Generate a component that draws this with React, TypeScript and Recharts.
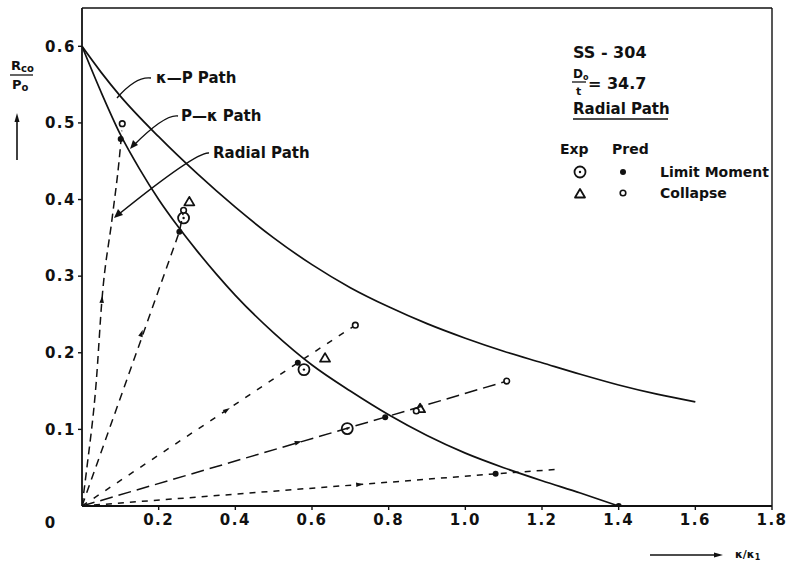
import React from 'react';
import { ComposedChart, Line, Scatter, XAxis, YAxis, ReferenceLine } from 'recharts';

// curves as [kappa/kappa1, Pco/Po]
const kappaPressurePath = [
  [0, 0.6], [0.05, 0.566], [0.1, 0.535], [0.2, 0.482], [0.3, 0.434], [0.4, 0.39],
  [0.5, 0.35], [0.6, 0.315], [0.7, 0.285], [0.8, 0.26], [0.9, 0.238], [1.0, 0.219],
  [1.1, 0.202], [1.2, 0.187], [1.3, 0.172], [1.4, 0.158], [1.5, 0.146], [1.6, 0.136],
];
const pressureKappaPath = [
  [0, 0.6], [0.05, 0.54], [0.1, 0.485], [0.15, 0.44], [0.2, 0.4], [0.25, 0.365],
  [0.3, 0.333], [0.35, 0.303], [0.4, 0.275], [0.5, 0.226], [0.6, 0.184], [0.7, 0.15],
  [0.8, 0.119], [0.9, 0.092], [1.0, 0.069], [1.1, 0.05], [1.2, 0.033], [1.3, 0.017], [1.4, 0],
];

// radial load paths (dashed)
const radialA = [[0, 0], [0.013, 0.051], [0.037, 0.161], [0.052, 0.269], [0.079, 0.377], [0.097, 0.452], [0.104, 0.49]];
const radialB = [[0, 0], [0.254, 0.358], [0.265, 0.385]];
const radialC = [[0, 0], [0.563, 0.187], [0.713, 0.236]];
const radialD = [[0, 0], [0.791, 0.116], [1.108, 0.163]];
const radialE = [[0, 0], [0.723, 0.028], [1.079, 0.042], [1.244, 0.048]];
const pathArrows = [[0.052, 0.269], [0.155, 0.225], [0.377, 0.125], [0.563, 0.083], [0.723, 0.028]];

// markers
const expLimitMoment = [[0.265, 0.376], [0.579, 0.178], [0.692, 0.101]];
const expCollapse = [[0.28, 0.397], [0.634, 0.193], [0.882, 0.127]];
const predLimitMoment = [[0.101, 0.479], [0.254, 0.358], [0.563, 0.187], [0.791, 0.116], [1.079, 0.042], [1.4, 0]];
const predCollapse = [[0.105, 0.499], [0.265, 0.386], [0.713, 0.236], [0.872, 0.124], [1.108, 0.163]];

const xTicks = [0.2, 0.4, 0.6, 0.8, 1.0, 1.2, 1.4, 1.6, 1.8];
const yTicks = [0.1, 0.2, 0.3, 0.4, 0.5, 0.6];

const toXY = (arr: number[][]) => arr.map(([x, y]) => ({ x, y }));

const FONT = '"DejaVu Sans", sans-serif';
const INK = '#111';

// pixels per unit, used only to orient the little arrowheads
const PX_X = 690 / 1.8;
const PX_Y = 498 / 0.65;

const ExpCircle = (props: any) => {
  const { cx, cy } = props;
  return (
    <g>
      <circle cx={cx} cy={cy} r={5.5} fill="none" stroke={INK} strokeWidth={1.8} />
      <circle cx={cx} cy={cy} r={1.2} fill={INK} />
    </g>
  );
};

const ExpTriangle = (props: any) => {
  const { cx, cy } = props;
  return (
    <polygon
      points={`${cx},${cy - 5} ${cx + 5},${cy + 3.5} ${cx - 5},${cy + 3.5}`}
      fill="none"
      stroke={INK}
      strokeWidth={1.8}
      strokeLinejoin="round"
    />
  );
};

const PredDot = (props: any) => <circle cx={props.cx} cy={props.cy} r={3} fill={INK} />;

const PredRing = (props: any) => (
  <circle cx={props.cx} cy={props.cy} r={2.8} fill="#fff" stroke={INK} strokeWidth={1.6} />
);

const Arrowhead = (props: any) => {
  const { cx, cy, payload } = props;
  const a = Math.atan2(-payload.y * PX_Y, payload.x * PX_X);
  const ux = Math.cos(a);
  const uy = Math.sin(a);
  const nx = -uy;
  const ny = ux;
  const pts = [
    [cx + ux * 4, cy + uy * 4],
    [cx - ux * 3 + nx * 2.3, cy - uy * 3 + ny * 2.3],
    [cx - ux * 3 - nx * 2.3, cy - uy * 3 - ny * 2.3],
  ];
  return <polygon points={pts.map((p) => p.join(',')).join(' ')} fill={INK} />;
};

const tickStyle = { fill: INK, fontSize: 15, fontFamily: FONT, fontWeight: 700, letterSpacing: 1.5 };

function Overlay() {
  return (
    <svg
      width={790}
      height={566}
      style={{ position: 'absolute', left: 0, top: 0, pointerEvents: 'none' }}
      fontFamily={FONT}
      fill={INK}
    >
      {/* y axis title */}
      <text x={11} y={70} fontSize={13} fontWeight={700}>
        R<tspan fontSize={10} dy={2}>co</tspan>
      </text>
      <line x1={10} x2={33} y1={75} y2={75} stroke={INK} strokeWidth={1.3} />
      <text x={12} y={89} fontSize={13} fontWeight={700}>
        P<tspan fontSize={10} dy={2}>o</tspan>
      </text>
      <line x1={17} x2={17} y1={160} y2={120} stroke={INK} strokeWidth={1.6} />
      <polygon points="17,113 14.5,122 19.5,122" fill={INK} />

      {/* x axis title */}
      <line x1={650} x2={716} y1={555} y2={555} stroke={INK} strokeWidth={1.4} />
      <polygon points="723,555 714,552.5 714,557.5" fill={INK} />
      <text x={735} y={558} fontSize={11} fontWeight={700}>
        κ/κ<tspan fontSize={8} dy={2}>1</tspan>
      </text>

      {/* origin label */}
      <text x={50} y={528} fontSize={15} fontWeight={700} textAnchor="middle">0</text>

      {/* curve annotations */}
      <text x={156} y={83} fontSize={15} fontWeight={700}>κ—P  Path</text>
      <path d="M151,78 Q136,76 117,98" fill="none" stroke={INK} strokeWidth={1.4} />
      <text x={181} y={121} fontSize={15} fontWeight={700}>P—κ  Path</text>
      <path d="M178,116 Q165,114 134,145" fill="none" stroke={INK} strokeWidth={1.4} />
      <polygon points="130,149 133,140 138,145" fill={INK} />
      <text x={213} y={158} fontSize={15} fontWeight={700}>Radial Path</text>
      <path d="M209,153 Q197,151 119,214" fill="none" stroke={INK} strokeWidth={1.4} />
      <polygon points="114,218 118,209 123,215" fill={INK} />

      {/* legend block */}
      <text x={573} y={58} fontSize={16} fontWeight={700}>SS - 304</text>
      <text x={573} y={78} fontSize={12} fontWeight={700}>
        D<tspan fontSize={8} dy={2}>o</tspan>
      </text>
      <line x1={572} x2={586} y1={82} y2={82} stroke={INK} strokeWidth={1.3} />
      <text x={576} y={95} fontSize={11} fontWeight={700}>t</text>
      <text x={588} y={89} fontSize={16} fontWeight={700}>= 34.7</text>
      <text x={573} y={114} fontSize={15} fontWeight={700}>Radial Path</text>
      <line x1={573} x2={668} y1={119} y2={119} stroke={INK} strokeWidth={1.4} />
      <text x={560} y={154} fontSize={14} fontWeight={700}>Exp</text>
      <text x={612} y={154} fontSize={14} fontWeight={700}>Pred</text>
      <ExpCircle cx={580} cy={172} />
      <PredDot cx={623} cy={172} />
      <text x={660} y={177} fontSize={14} fontWeight={700}>Limit Moment</text>
      <ExpTriangle cx={580} cy={194} />
      <PredRing cx={623} cy={193} />
      <text x={660} y={198} fontSize={14} fontWeight={700}>Collapse</text>
    </svg>
  );
}

export default function App() {
  const solid = { stroke: INK, strokeWidth: 1.7, dot: false, isAnimationActive: false, legendType: 'none' as const };
  const dashed = { stroke: INK, strokeWidth: 1.5, dot: false, isAnimationActive: false, type: 'linear' as const };
  return (
    <div style={{ position: 'absolute', left: 0, top: 0, width: 790, height: 566, background: '#fff' }}>
      <ComposedChart width={790} height={566} margin={{ top: 8, right: 18, bottom: 30, left: 32 }}>
        <XAxis
          type="number"
          dataKey="x"
          domain={[0, 1.8]}
          ticks={xTicks}
          tickFormatter={(v: number) => v.toFixed(1)}
          allowDataOverflow
          height={30}
          tickSize={4}
          tickMargin={4}
          axisLine={{ stroke: INK, strokeWidth: 1.8 }}
          tickLine={{ stroke: INK, strokeWidth: 1.4 }}
          tick={tickStyle}
        />
        <YAxis
          type="number"
          dataKey="y"
          domain={[0, 0.65]}
          ticks={yTicks}
          tickFormatter={(v: number) => v.toFixed(1)}
          allowDataOverflow
          width={50}
          tickSize={4}
          tickMargin={2}
          axisLine={{ stroke: INK, strokeWidth: 1.8 }}
          tickLine={{ stroke: INK, strokeWidth: 1.4 }}
          tick={tickStyle}
        />
        <ReferenceLine y={0.65} stroke={INK} strokeWidth={1.4} />
        <ReferenceLine x={1.8} stroke={INK} strokeWidth={1.4} />

        <Line data={toXY(kappaPressurePath)} dataKey="y" type="monotone" {...solid} />
        <Line data={toXY(pressureKappaPath)} dataKey="y" type="monotone" {...solid} />

        <Line data={toXY(radialA)} dataKey="y" {...dashed} type="monotone" strokeDasharray="8 5" />
        <Line data={toXY(radialB)} dataKey="y" {...dashed} strokeDasharray="8 6" />
        <Line data={toXY(radialC)} dataKey="y" {...dashed} strokeDasharray="6 8" />
        <Line data={toXY(radialD)} dataKey="y" {...dashed} strokeDasharray="13 6" />
        <Line data={toXY(radialE)} dataKey="y" {...dashed} strokeDasharray="6 6" />

        <Scatter data={toXY(pathArrows)} dataKey="y" shape={Arrowhead} isAnimationActive={false} />
        <Scatter data={toXY(predLimitMoment)} dataKey="y" shape={PredDot} isAnimationActive={false} />
        <Scatter data={toXY(expLimitMoment)} dataKey="y" shape={ExpCircle} isAnimationActive={false} />
        <Scatter data={toXY(expCollapse)} dataKey="y" shape={ExpTriangle} isAnimationActive={false} />
        <Scatter data={toXY(predCollapse)} dataKey="y" shape={PredRing} isAnimationActive={false} />
      </ComposedChart>
      <Overlay />
    </div>
  );
}
